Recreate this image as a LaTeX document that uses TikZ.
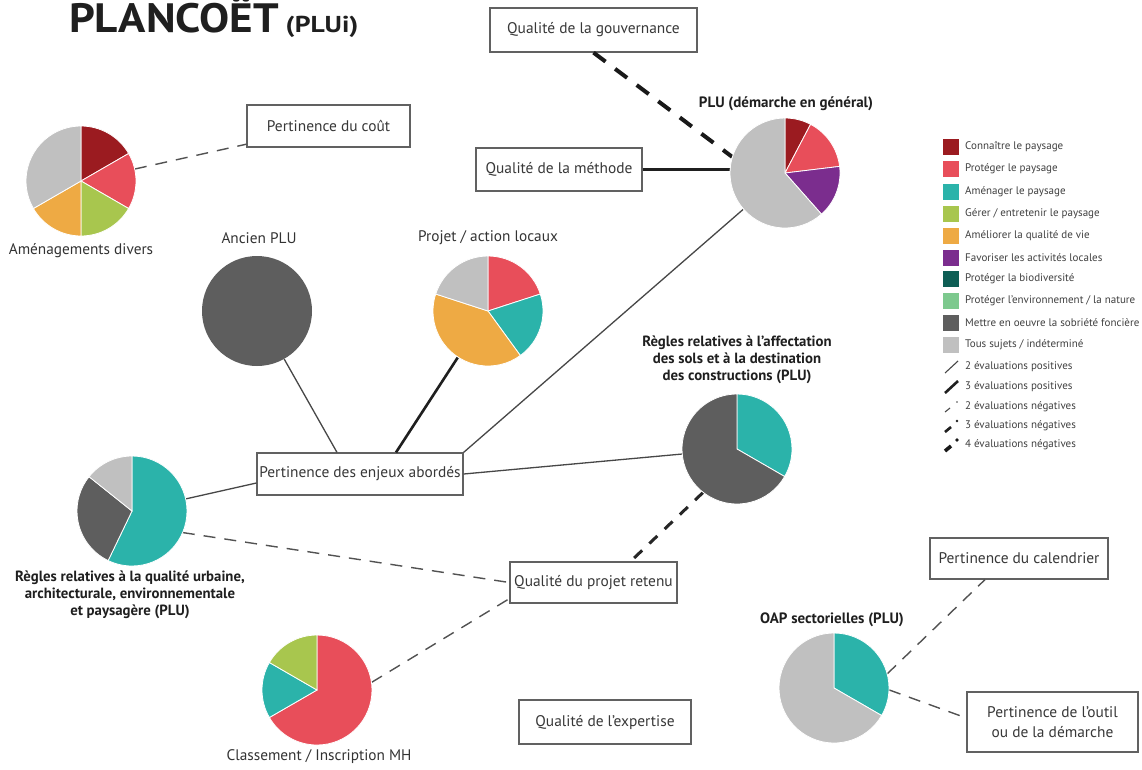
\documentclass[tikz,border=0pt]{standalone}
\usepackage{fontspec}
\setmainfont{PT Sans}
\definecolor{cRed}{RGB}{155,27,32}
\definecolor{cPink}{RGB}{232,78,90}
\definecolor{cTeal}{RGB}{43,179,170}
\definecolor{cGreen}{RGB}{168,198,78}
\definecolor{cOrange}{RGB}{238,170,68}
\definecolor{cPurple}{RGB}{123,45,142}
\definecolor{cDkTeal}{RGB}{14,94,85}
\definecolor{cLtGreen}{RGB}{125,201,142}
\definecolor{cDkGrey}{RGB}{94,94,94}
\definecolor{cLtGrey}{RGB}{192,192,192}
\newcommand\pieslice[4]{\filldraw[sl, fill=#4] (#1.center) -- +(#2:55pt) arc[start angle=#2, end angle=#3, radius=55pt] -- cycle;}
\begin{document}
\begin{tikzpicture}[x=1pt,y=-1pt,
  box/.style={draw=black!62, line width=1.2pt, fill=white, text=black!78, font=\fontsize{15.4}{20}\selectfont, inner sep=0pt, align=center},
  pienode/.style={circle, minimum size=110pt, inner sep=0pt},
  lab/.style={text=black!80, font=\fontsize{15.3}{18}\selectfont, inner sep=0pt},
  blab/.style={text=black!88, font=\fontsize{15}{17}\selectfont\bfseries, inner sep=0pt, align=center},
  sblab/.style={text=black!88, font=\fontsize{14.8}{17.2}\selectfont\bfseries, inner sep=0pt, align=center},
  legt/.style={text=black!75, font=\fontsize{11}{12}\selectfont, inner sep=0pt, anchor=west},
  pos2/.style={draw=black!72, line width=1.3pt},
  pos3/.style={draw=black!88, line width=2.6pt},
  neg2/.style={draw=black!68, line width=1.4pt, dash pattern=on 12pt off 9pt},
  neg3/.style={draw=black!85, line width=3pt, dash pattern=on 11pt off 10pt},
  neg4/.style={draw=black!90, line width=4pt, dash pattern=on 15pt off 12pt},
  sl/.style={draw=white, line width=0.8pt}
]
\useasboundingbox (0,0) rectangle (1142,769);
\fill[white] (0,0) rectangle (1142,769);

% title
\node[anchor=base west, inner sep=0pt, text=black!88] (title) at (69,32)
  {\fontsize{41}{41}\selectfont\bfseries\scalebox{1.1}[1]{PLANCOËT}\hspace{7pt}\fontsize{23}{23}\selectfont\scalebox{1.2}[1]{(PLUi)}};

% boxes
\node[box, minimum width=163pt, minimum height=42pt] (cout) at (328.5,126) {Pertinence du coût};
\node[box, minimum width=207pt, minimum height=44pt] (gouv) at (593.5,30) {Qualité de la gouvernance};
\node[box, minimum width=166pt, minimum height=43pt] (methode) at (559,169.5) {Qualité de la méthode};
\node[box, minimum width=206pt, minimum height=42pt] (enjeux) at (360,474) {Pertinence des enjeux abordés};
\node[box, minimum width=167pt, minimum height=41pt] (projet) at (593.5,582.5) {Qualité du projet retenu};
\node[box, minimum width=172pt, minimum height=44pt] (expertise) at (605,722) {Qualité de l’expertise};
\node[box, minimum width=178pt, minimum height=41pt] (cal) at (1019,558.5) {Pertinence du calendrier};
\node[box, minimum width=171pt, minimum height=60pt] (outil) at (1052.5,722) {Pertinence de l’outil\\ou de la démarche};

% pie nodes
\node[pienode] (amen) at (81,181) {};
\node[pienode] (ancien) at (257,311) {};
\node[pienode] (projpie) at (488,311) {};
\node[pienode] (plu) at (785,173) {};
\node[pienode] (affect) at (737,449) {};
\node[pienode] (regq) at (132,511) {};
\node[pienode] (clas) at (317,690) {};
\node[pienode] (oap) at (834,688) {};

% connectors
\draw[neg2] (amen) -- (cout);
\draw[neg4] (gouv.south) -- (plu.163);
\draw[pos3] (methode.east) -- (methode.east -| plu.west);
\draw[pos2] ([xshift=-23pt]enjeux.north) -- (ancien);
\draw[pos3] ([xshift=36pt]enjeux.north) -- (projpie);
\draw[pos2] (enjeux.north east) -- (plu);
\draw[pos2] (enjeux.east) -- (affect);
\draw[pos2] ([yshift=-9pt]enjeux.west) -- (regq);
\draw[neg2] (regq.-23) -- (projet.west);
\draw[neg2] (clas.8) -- ([yshift=5pt]projet.south west);
\draw[neg3] (affect.-128) -- ([xshift=37pt]projet.north);
\draw[neg2] (oap.15) -- ([xshift=-34pt]cal.south);
\draw[neg2] (oap.-2) -- ([yshift=4pt]outil.west);

% pies
\pieslice{amen}{90}{30}{cRed}
\pieslice{amen}{30}{-30}{cPink}
\pieslice{amen}{-30}{-90}{cGreen}
\pieslice{amen}{-90}{-150}{cOrange}
\pieslice{amen}{-150}{-270}{cLtGrey}

\fill[cDkGrey] (ancien.center) circle[radius=55pt];

\pieslice{projpie}{90}{18}{cPink}
\pieslice{projpie}{18}{-54}{cTeal}
\pieslice{projpie}{-54}{-198}{cOrange}
\pieslice{projpie}{-198}{-270}{cLtGrey}

\pieslice{plu}{90}{62.3}{cRed}
\pieslice{plu}{62.3}{6.9}{cPink}
\pieslice{plu}{6.9}{-48.5}{cPurple}
\pieslice{plu}{-48.5}{-270}{cLtGrey}

\pieslice{affect}{90}{-30}{cTeal}
\pieslice{affect}{-30}{-270}{cDkGrey}

\pieslice{regq}{90}{-115.7}{cTeal}
\pieslice{regq}{-115.7}{-218.6}{cDkGrey}
\pieslice{regq}{-218.6}{-270}{cLtGrey}

\pieslice{clas}{90}{-150}{cPink}
\pieslice{clas}{-150}{-210}{cTeal}
\pieslice{clas}{-210}{-270}{cGreen}

\pieslice{oap}{90}{-30}{cTeal}
\pieslice{oap}{-30}{-270}{cLtGrey}

% pie labels
\node[lab] (lamen) at (81,251) {Aménagements divers};
\node[lab] (lancien) at (259,238) {Ancien PLU};
\node[lab] (lprojet) at (488,238) {Projet / action locaux};
\node[blab] (lplu) at (786,104) {PLU (démarche en général)};
\node[sblab] (laffect) at (737,360) {Règles relatives à l’affectation\\des sols et à la destination\\des constructions (PLU)};
\node[sblab] (lregq) at (130,595) {Règles relatives à la qualité urbaine,\\architecturale, environnementale\\et paysagère (PLU)};
\node[lab] (lclas) at (319,757) {Classement / Inscription MH};
\node[blab] (loap) at (832,620) {OAP sectorielles (PLU)};

% legend
\foreach \y/\c/\t [count=\i] in {
  147/cRed/{Connaître le paysage},
  169/cPink/{Protéger le paysage},
  192/cTeal/{Aménager le paysage},
  214/cGreen/{Gérer / entretenir le paysage},
  236/cOrange/{Améliorer la qualité de vie},
  258/cPurple/{Favoriser les activités locales},
  279/cDkTeal/{Protéger la biodiversité},
  301/cLtGreen/{Protéger l’environnement / la nature},
  323/cDkGrey/{Mettre en oeuvre la sobriété foncière},
  345/cLtGrey/{Tous sujets / indéterminé}} {
  \fill[\c] (943,\y-8) rectangle (959,\y+8);
  \node[legt] (leg\i) at (965,\y) {\t};
}
\draw[draw=black!72, line width=1.1pt] (945,373) -- (958,361);
\node[legt] (legp2) at (965,367) {2 évaluations positives};
\draw[draw=black!88, line width=2.6pt] (945,393) -- (958,381);
\node[legt] (legp3) at (965,387) {3 évaluations positives};
\draw[draw=black!72, line width=1.1pt] (945,412) -- (950,408);
\fill[black!72] (957,402) circle[radius=0.9pt];
\node[legt] (legn2) at (965,407) {2 évaluations négatives};
\draw[draw=black!88, line width=2.6pt] (945,432) -- (951,427);
\fill[black!88] (957,421) circle[radius=1.4pt];
\node[legt] (legn3) at (965,426) {3 évaluations négatives};
\draw[draw=black!90, line width=3.6pt] (945,451) -- (951,446);
\fill[black!90] (957,440) circle[radius=1.9pt];
\node[legt] (legn4) at (965,445) {4 évaluations négatives};
\end{tikzpicture}
\end{document}
